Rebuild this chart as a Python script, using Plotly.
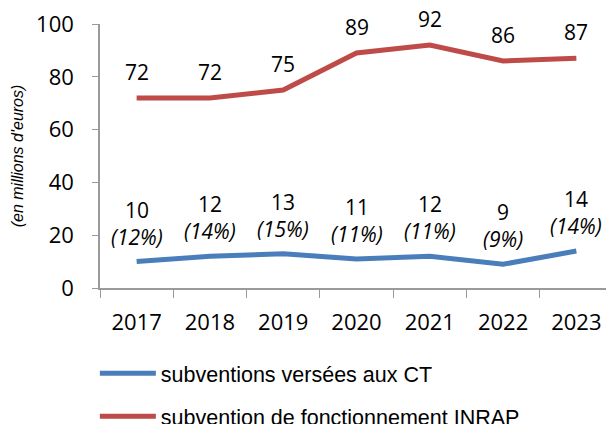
import plotly.graph_objects as go

years = ["2017", "2018", "2019", "2020", "2021", "2022", "2023"]
ct_values = [10, 12, 13, 11, 12, 9, 14]
ct_shares = ["12%", "14%", "15%", "11%", "11%", "9%", "14%"]
inrap_values = [72, 72, 75, 89, 92, 86, 87]

blue = "#4a7ebb"
red = "#be4b48"
axis_grey = "#9a9a9a"

fig = go.Figure()

fig.add_trace(go.Scatter(
    x=years, y=ct_values, mode="lines",
    name="subventions versées aux CT", legendgroup="ct",
    line=dict(color=blue, width=5),
))
fig.add_trace(go.Scatter(
    x=years, y=inrap_values, mode="lines",
    name="subvention de fonctionnement INRAP", legendgroup="inrap",
    line=dict(color=red, width=5),
))

# data labels (category axis -> annotations use the category index)
for i, (v, s) in enumerate(zip(ct_values, ct_shares)):
    fig.add_annotation(
        x=i, y=v, text=f"{v}<br><i>({s})</i>", showarrow=False,
        yanchor="bottom", yshift=9,
        font=dict(family="Open Sans", size=21, color="black"),
    )
for i, v in enumerate(inrap_values):
    fig.add_annotation(
        x=i, y=v, text=str(v), showarrow=False,
        yanchor="bottom", yshift=10,
        font=dict(family="Open Sans", size=21, color="black"),
    )

fig.update_layout(
    width=614, height=424,
    margin=dict(l=92, r=9, t=16, b=144, autoexpand=False),
    paper_bgcolor="white", plot_bgcolor="white",
    showlegend=True,
    legend=dict(
        orientation="v", xref="paper", x=-0.01, xanchor="left",
        yref="container", y=0.187, yanchor="top",
        font=dict(family="Liberation Sans", size=21.5, color="black"),
        itemwidth=56, traceorder="grouped", tracegroupgap=12,
    ),
    xaxis=dict(
        type="category", range=[-0.5, 6.5],
        showgrid=False, showline=True, linecolor=axis_grey, linewidth=1.5,
        ticks="outside", tickson="boundaries", ticklen=8, tickcolor=axis_grey,
        tickfont=dict(family="Open Sans", size=22, color="black"),
        tickangle=0, ticklabelstandoff=14,
    ),
    yaxis=dict(
        range=[0, 100], dtick=20, showgrid=False,
        showline=True, linecolor=axis_grey, linewidth=1.5,
        ticks="outside", ticklen=6, tickcolor=axis_grey,
        tickfont=dict(family="Open Sans", size=22, color="black"),
        ticklabeloverflow="allow", ticklabelstandoff=14,
        title=dict(text="<i>(en millions d'euros)</i>",
                   font=dict(family="Liberation Sans", size=16, color="black"),
                   standoff=8),
        zeroline=False,
    ),
)

fig.write_html("out.html")
